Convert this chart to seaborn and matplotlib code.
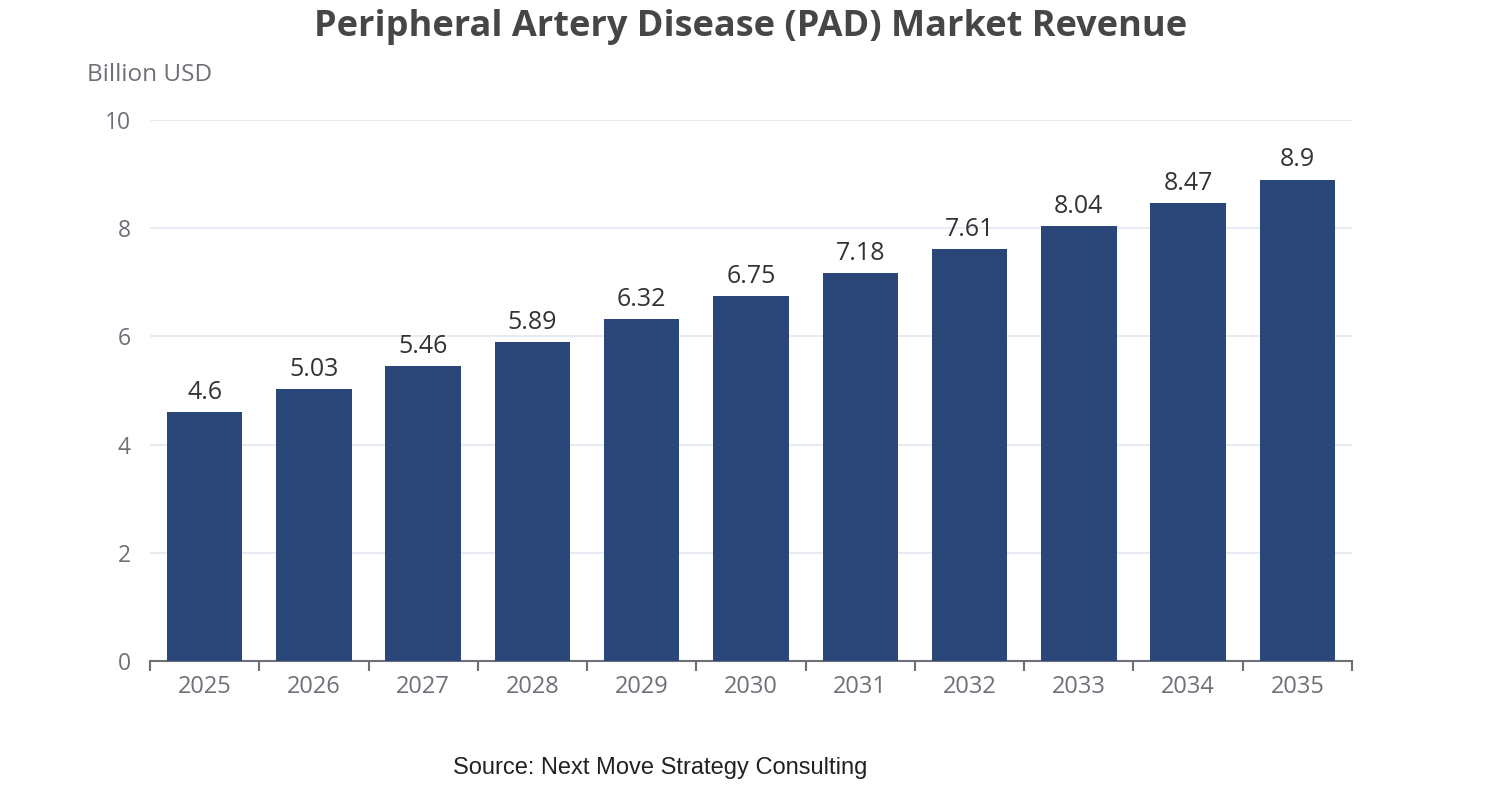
import matplotlib
matplotlib.use('Agg')
import matplotlib.pyplot as plt
import numpy as np
import seaborn as sns
import pandas as pd

# data
years = ['2025', '2026', '2027', '2028', '2029', '2030',
         '2031', '2032', '2033', '2034', '2035']
revenue = [4.6, 5.03, 5.46, 5.89, 6.32, 6.75, 7.18, 7.61, 8.04, 8.47, 8.9]
labels = ['4.6', '5.03', '5.46', '5.89', '6.32', '6.75',
          '7.18', '7.61', '8.04', '8.47', '8.9']

df = pd.DataFrame({'Year': years, 'Revenue': revenue})

sns.set_style('white')
plt.rcParams['font.family'] = ['Open Sans', 'DejaVu Sans']

fig = plt.figure(figsize=(15.02, 8.0), dpi=100)
ax = fig.add_axes([150 / 1502, 1 - 661 / 800, 1202 / 1502, 541 / 800])

sns.barplot(x='Year', y='Revenue', data=df, color='#2b4679',
            saturation=1, width=0.69, linewidth=0, ax=ax, zorder=3)

ax.set_ylim(0, 10)
ax.set_xlim(-0.5, len(years) - 0.5)
ax.set_yticks([0, 2, 4, 6, 8, 10])
ax.grid(axis='y', color='#e0e6f1', linewidth=1.2, zorder=0)
ax.set_xlabel('')
ax.set_ylabel('')

for side in ['top', 'right', 'left']:
    ax.spines[side].set_visible(False)
ax.spines['bottom'].set_color('#6e7079')
ax.spines['bottom'].set_linewidth(1.5)

# ticks sit on band boundaries
ax.set_xticks(np.arange(-0.5, len(years), 1.0), minor=False)
ax.set_xticklabels([])
ax.set_xticks(np.arange(len(years)), minor=True)
ax.set_xticklabels(years, minor=True)
ax.tick_params(axis='x', which='major', bottom=True, length=7, width=1.5,
               color='#6e7079')
ax.tick_params(axis='x', which='minor', bottom=True, length=0, pad=10,
               labelsize=17, labelcolor='#6e7079')
ax.tick_params(axis='y', length=0, pad=14, labelsize=16.5,
               labelcolor='#6e7079')

for i, (v, t) in enumerate(zip(revenue, labels)):
    ax.text(i, v + 0.13, t, ha='center', va='bottom',
            fontsize=18, color='#333333')

fig.text(87 / 1502, 1 - 75 / 800, 'Billion USD', ha='left', va='center',
         fontsize=17.5, color='#6e7079')
fig.text(751 / 1502, 1 - 27 / 800,
         'Peripheral Artery Disease (PAD) Market Revenue',
         ha='center', va='center', fontsize=26, fontweight='bold',
         color='#464646')
fig.text(660 / 1502, 1 - 768 / 800, 'Source: Next Move Strategy Consulting',
         ha='center', va='center', fontsize=17, color='#222222',
         family=['Liberation Sans', 'DejaVu Sans'])

fig.savefig('out.png', dpi=100)
